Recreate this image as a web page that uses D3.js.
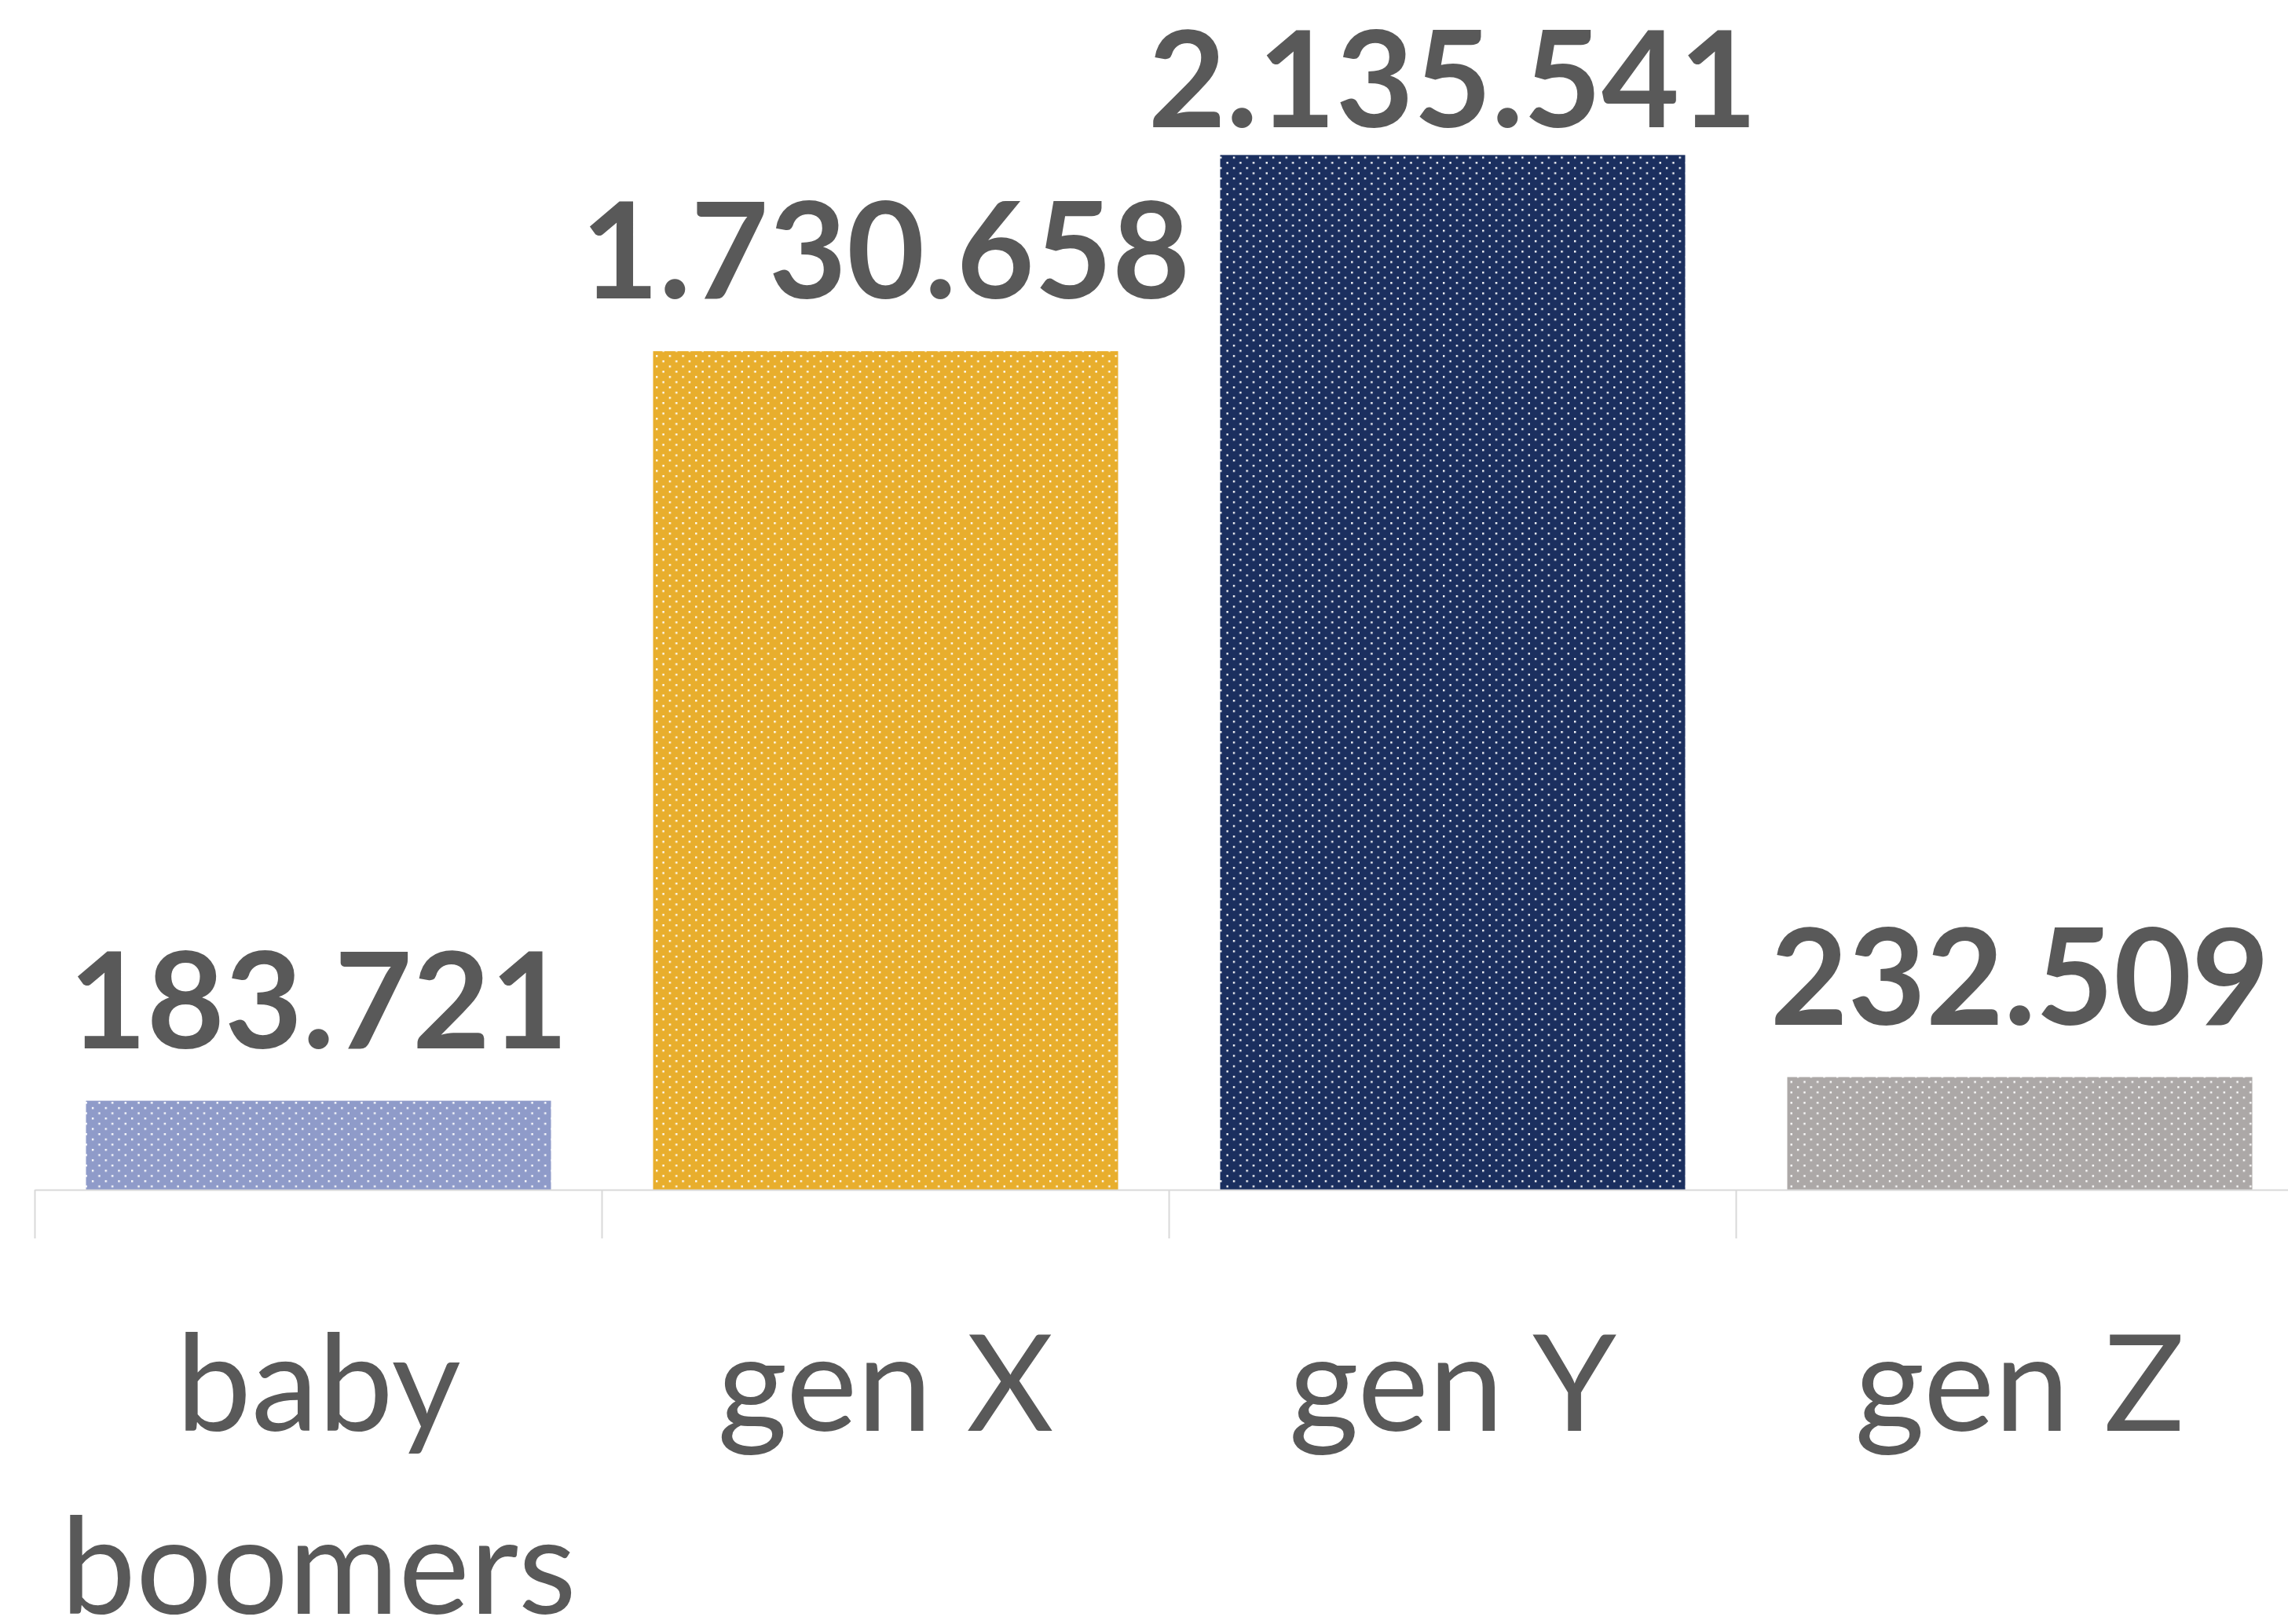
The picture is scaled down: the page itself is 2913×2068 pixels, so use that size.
<!DOCTYPE html>
<html>
<head>
<meta charset="utf-8">
<script src="https://cdn.jsdelivr.net/npm/d3@7"></script>
<style>
  html, body { margin: 0; padding: 0; background: #ffffff; }
  svg { display: block; }
</style>
</head>
<body>
<svg id="chart" width="2913" height="2068"></svg>
<script>
// ---- data ----
const categories = ["baby boomers", "gen X", "gen Y", "gen Z"];
const categoryLines = [["baby", "boomers"], ["gen X"], ["gen Y"], ["gen Z"]];
const values = [183721, 1730658, 2135541, 232509];
const valueLabels = ["183.721", "1.730.658", "2.135.541", "232.509"];
const barColors = ["#8F9BC9", "#E8AE2D", "#1B2F5F", "#ACA8A7"];
const yMax = 2500000;

// ---- layout ----
const W = 2913, H = 2068;
const baseline = 1515;
const plotLeft = 44.5;
const step = 722;
const textColor = "#595959";
const axisColor = "#D9D9D9";

const svg = d3.select("#chart");

const x = d3.scaleBand()
  .domain(categories)
  .range([plotLeft, plotLeft + step * categories.length])
  .paddingInner(0.18)
  .paddingOuter(0.09);

const y = d3.scaleLinear()
  .domain([0, yMax])
  .range([baseline, baseline - 0.000617 * yMax]);

// patterns (dotted fill)
const defs = svg.append("defs");
barColors.forEach((c, i) => {
  const p = defs.append("pattern")
    .attr("id", "pat" + i)
    .attr("patternUnits", "userSpaceOnUse")
    .attr("width", 16.7)
    .attr("height", 13.3);
  p.append("rect").attr("width", 16.7).attr("height", 13.3).attr("fill", c);
  p.append("rect").attr("x", 0).attr("y", 0).attr("width", 2.4).attr("height", 2.4).attr("fill", "#ffffff");
  p.append("rect").attr("x", 8.35).attr("y", 6.65).attr("width", 2.4).attr("height", 2.4).attr("fill", "#ffffff");
});

// bars
svg.append("g").selectAll("rect")
  .data(values)
  .join("rect")
  .attr("x", (d, i) => x(categories[i]))
  .attr("y", d => y(d))
  .attr("width", x.bandwidth())
  .attr("height", d => y(0) - y(d))
  .attr("fill", (d, i) => "url(#pat" + i + ")");

// axis (category boundaries as ticks)
const axisG = svg.append("g").attr("transform", `translate(0,${baseline})`);
const xAxis = d3.axisBottom(x).tickSize(0).tickFormat("");
axisG.call(xAxis);
axisG.select(".domain").remove();
axisG.append("line")
  .attr("x1", plotLeft).attr("x2", W)
  .attr("y1", 0.5).attr("y2", 0.5)
  .attr("stroke", axisColor).attr("stroke-width", 2);
const bounds = categories.map(c => x(c) - x.step() * x.paddingInner() / 2);
axisG.selectAll("line.tickb")
  .data(bounds)
  .join("line")
  .attr("class", "tickb")
  .attr("x1", d => d).attr("x2", d => d)
  .attr("y1", 0).attr("y2", 62)
  .attr("stroke", axisColor).attr("stroke-width", 2);

// category labels
const catG = svg.append("g");
categoryLines.forEach((lines, i) => {
  const cx = x(categories[i]) + x.bandwidth() / 2;
  const t = catG.append("text")
    .attr("x", cx)
    .attr("y", 1822)
    .attr("text-anchor", "middle")
    .attr("font-family", "Lato, 'Open Sans', sans-serif")
    .attr("font-size", 171)
    .attr("fill", textColor);
  lines.forEach((ln, j) => {
    t.append("tspan").attr("x", cx).attr("dy", j === 0 ? 0 : 233).text(ln);
  });
});

// value labels
svg.append("g").selectAll("text")
  .data(values)
  .join("text")
  .attr("x", (d, i) => x(categories[i]) + x.bandwidth() / 2)
  .attr("y", d => Math.max(y(d) - 67, 162))
  .attr("text-anchor", "middle")
  .attr("font-family", "Lato, 'Open Sans', sans-serif")
  .attr("font-weight", 700)
  .attr("font-size", 171)
  .attr("fill", textColor)
  .text((d, i) => valueLabels[i]);
</script>
</body>
</html>
